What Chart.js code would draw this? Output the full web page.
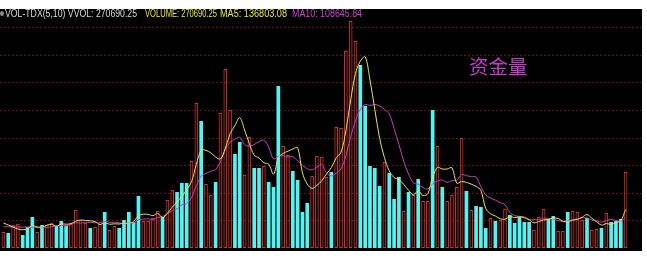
<!DOCTYPE html>
<html>
<head>
<meta charset="utf-8">
<script src="https://cdn.jsdelivr.net/npm/chart.js@4.4.0/dist/chart.umd.min.js"></script>
<style>
body { margin: 0; background: #fff; width: 647px; height: 264px; overflow: hidden; position: relative; }
#panel { position: absolute; left: 0; top: 9px; width: 642px; height: 242px; background: #000; }
#volChart { position: absolute; left: 0; top: 0; }
.hd { position: absolute; top: 0; font: 10px "Liberation Sans", Arial, sans-serif; line-height: 10px; white-space: nowrap; transform-origin: 0 0; }
.icon { position: absolute; left: 0; top: 2px; width: 4px; height: 5px; border-radius: 50%; background: #8a8a8a; }
#tag { position: absolute; left: 469px; top: 46px; font: 19.5px "Noto Sans CJK SC", sans-serif; line-height: 22px; color: #c23cc8; white-space: nowrap; }
</style>
</head>
<body>
<div id="panel">
  <canvas id="volChart" width="642" height="242"></canvas>
  <span class="icon"></span>
  <span class="hd" data-w="132" style="left:5px;color:#dcdcdc">VOL-TDX(5,10) VVOL: 270690.25</span>
  <span class="hd" data-w="72" style="left:145px;color:#e6e64c">VOLUME: 270690.25</span>
  <span class="hd" data-w="67" style="left:220px;color:#e6e64c">MA5: 136803.08</span>
  <span class="hd" data-w="70" style="left:292px;color:#d040d0">MA10: 108645.84</span>
  <span id="tag">资金量</span>
</div>
<script>
// volume per day
const volume = [
  57000, 53400, 81900, 85500, 46300, 74800, 110400, 57000, 81900, 81900,
  89100, 78400, 96200, 78400, 89100, 135400, 99700, 89100, 71200, 74800,
  85500, 128200, 64100, 78400, 71200, 99700, 128200, 92600, 185200, 96200,
  96200, 106900, 131800, 110400, 171000, 206600, 199500, 231500, 231500, 309900,
  516500, 452400, 228000, 188800, 235100, 480900, 637600, 491600, 334800, 377600,
  260000, 395400, 285000, 285000, 292100, 235100, 217300, 577000, 363300, 331300,
  274300, 242200, 128200, 160300, 256500, 327700, 324100, 252900, 270700, 431000,
  427400, 701700, 808600, 737300, 651800, 505800, 292100, 285000, 220800, 306300,
  267200, 174500, 252900, 131800, 199500, 188800, 245800, 167400, 167400, 491600,
  363300, 217300, 167400, 188800, 217300, 391800, 203000, 135400, 149600, 146000,
  71200, 106900, 96200, 99700, 138900, 117500, 89100, 110400, 92600, 92600,
  64100, 110400, 138900, 103300, 114000, 60600, 60600, 128200, 131800, 128200,
  99700, 106900, 64100, 67700, 71200, 124700, 92600, 96200, 103300, 270690.25
];

// 1 = up day (hollow red bar), 0 = down day (cyan bar)
const upDay = [
  1, 0, 1, 1, 0, 0, 0, 1, 0, 1,
  1, 0, 0, 0, 1, 1, 1, 1, 0, 1,
  1, 0, 1, 1, 0, 0, 0, 0, 0, 1,
  1, 1, 1, 0, 1, 1, 0, 0, 0, 1,
  1, 0, 1, 1, 0, 1, 1, 1, 0, 0,
  1, 1, 0, 0, 1, 0, 0, 0, 1, 1,
  0, 0, 0, 0, 1, 1, 1, 1, 0, 1,
  1, 1, 1, 1, 0, 0, 0, 0, 0, 1,
  0, 0, 0, 1, 0, 1, 0, 1, 1, 0,
  1, 0, 1, 1, 1, 1, 0, 1, 0, 0,
  0, 1, 0, 1, 1, 0, 0, 0, 0, 0,
  1, 1, 1, 0, 0, 1, 1, 0, 1, 1,
  1, 0, 1, 1, 0, 1, 0, 0, 0, 1
];

const ma5 = [
  89100, 81900, 74800, 67700, 64800, 68400, 79800, 74800, 74100, 81200,
  84100, 77700, 85500, 84800, 86200, 95500, 99700, 98300, 96900, 94000,
  84100, 89800, 84800, 86200, 85500, 88300, 88300, 94000, 115400, 120400,
  119700, 115400, 123200, 108300, 123200, 145300, 163900, 183800, 208000, 235800,
  297800, 348400, 347700, 339100, 324100, 317000, 354100, 406800, 436000, 464500,
  420300, 371900, 330600, 320600, 303500, 298500, 262900, 321300, 337000, 344800,
  352600, 357600, 267900, 227300, 212300, 223000, 239400, 264300, 286400, 321300,
  341200, 416800, 527900, 621200, 665400, 681100, 599100, 494400, 391100, 322000,
  274300, 250800, 244400, 226500, 205200, 189500, 203700, 186600, 193800, 252200,
  287100, 281400, 281400, 285700, 230800, 236500, 233700, 227300, 219400, 205200,
  141100, 121800, 114000, 104000, 102600, 111800, 108300, 111100, 109700, 100400,
  89800, 94000, 99700, 101900, 106100, 105400, 95500, 93300, 99000, 101900,
  109700, 119000, 106100, 93300, 81900, 86900, 84100, 90500, 97600, 136803.08
];

const ma10 = [
  76000, 75500, 75000, 75000, 74500, 74500, 74000, 73500, 73000, 73000,
  76200, 78700, 80100, 79400, 83700, 89800, 88700, 91900, 90800, 90100,
  89800, 94700, 91500, 91500, 89800, 86200, 89100, 89400, 100800, 102900,
  104000, 101900, 108600, 111800, 121800, 132500, 139600, 153500, 158200, 179500,
  221600, 256100, 265700, 273600, 280000, 307400, 351200, 377200, 387500, 394300,
  368700, 363000, 368700, 378300, 384000, 359400, 317400, 325900, 328800, 324100,
  325600, 310300, 294600, 282100, 278500, 287800, 298500, 266100, 256800, 266800,
  282100, 328100, 396100, 453800, 493300, 511100, 507900, 511100, 506200, 493700,
  477700, 424900, 369400, 308800, 263600, 231900, 227300, 215500, 210200, 228700,
  238300, 242600, 234000, 239700, 241500, 261800, 257500, 254300, 252500, 218000,
  188800, 177700, 170600, 161700, 153900, 126500, 115100, 112600, 106900, 101500,
  100800, 101200, 105400, 105800, 103300, 97600, 94700, 96500, 100400, 104000,
  107600, 107200, 99700, 96200, 91900, 98300, 101500, 98300, 95500, 108645.84
];

// dotted guide levels of the panel
const gridLevels = [98300, 196600, 294900, 393200, 491500, 589800, 688100, 786400];

const days = volume.map((v, i) => String(i + 1));

const upColor = '#d0302c';
const downColor = '#56f2f2';

const panelGrid = {
    id: 'panelGrid',
    beforeDatasetsDraw(chart) {
        const ctx = chart.ctx;
        const yScale = chart.scales.y;
        ctx.save();
        ctx.strokeStyle = '#6e0c0c';
        ctx.lineWidth = 1;
        ctx.setLineDash([2, 2]);
        gridLevels.forEach((v) => {
            const py = Math.round(yScale.getPixelForValue(v)) + 0.5;
            ctx.beginPath();
            ctx.moveTo(0, py);
            ctx.lineTo(chart.width, py);
            ctx.stroke();
        });
        ctx.restore();
    }
};

new Chart(document.getElementById('volChart'), {
    type: 'bar',
    data: {
        labels: days,
        datasets: [
            {
                type: 'line',
                label: 'MA5',
                data: ma5,
                borderColor: '#e6e64c',
                borderWidth: 1,
                pointRadius: 0,
                tension: 0.35,
                order: 0
            },
            {
                type: 'line',
                label: 'MA10',
                data: ma10,
                borderColor: '#c83cc8',
                borderWidth: 1,
                pointRadius: 0,
                tension: 0.35,
                order: 1
            },
            {
                label: 'VOLUME',
                data: volume,
                backgroundColor: (c) => upDay[c.dataIndex] ? 'rgba(0,0,0,0)' : downColor,
                borderColor: (c) => upDay[c.dataIndex] ? upColor : downColor,
                borderWidth: (c) => upDay[c.dataIndex] ? 1 : 0,
                borderSkipped: false,
                barPercentage: 0.76,
                categoryPercentage: 1,
                order: 2
            }
        ]
    },
    options: {
        responsive: false,
        animation: false,
        devicePixelRatio: 1,
        layout: { padding: { left: 1, right: 14, top: 0, bottom: 3 } },
        plugins: { legend: { display: false }, tooltip: { enabled: false } },
        scales: {
            x: { display: false },
            y: { display: false, min: 0, max: 851300 }
        }
    },
    plugins: [panelGrid]
});

// squeeze the header texts to the widths they take in the terminal
document.querySelectorAll('.hd').forEach((el) => {
    const w = el.getBoundingClientRect().width;
    el.style.transform = `scaleX(${el.dataset.w / w})`;
});
</script>
</body>
</html>
